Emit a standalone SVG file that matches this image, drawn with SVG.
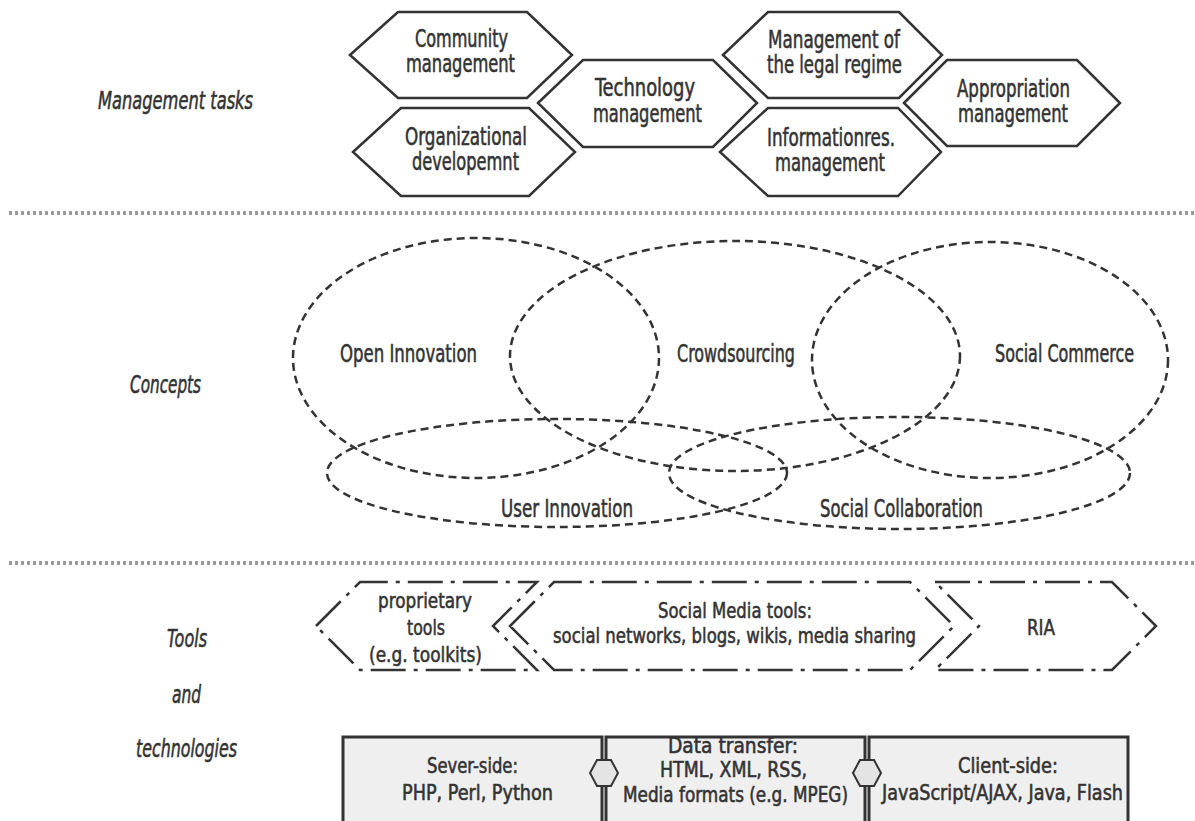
<svg xmlns="http://www.w3.org/2000/svg" width="1195" height="821" viewBox="0 0 1195 821">
<style>
.t{font-family:"DejaVu Sans Condensed","DejaVu Sans",sans-serif;font-stretch:condensed;fill:#333;stroke:#333;stroke-width:0.55;text-anchor:middle}
.hx{font-size:24px}
.lb{font-size:24px;font-style:italic}
.cc{font-size:25px}
.tl{font-size:22px}
.bt{font-size:21px}
.hex{fill:#fff;stroke:#333;stroke-width:2.5;stroke-linejoin:miter}
.sep{stroke:#999;stroke-width:4;stroke-dasharray:3 3;fill:none}
.ell{fill:none;stroke:#333;stroke-width:2.5;stroke-dasharray:8 5}
.tool{fill:none;stroke:#333;stroke-width:2.5;stroke-dasharray:35 8 4 8}
.box{fill:#efefef;stroke:#333;stroke-width:3}
.conn{fill:#e4e4e4;stroke:#333;stroke-width:2}
</style>
<rect width="1195" height="821" fill="#fff"/>

<g id="separators">
<line class="sep" x1="9" y1="213" x2="1195" y2="213"/>
<line class="sep" x1="9" y1="563" x2="1195" y2="563"/>
</g>

<g id="labels">
<text class="t lb" x="175.5" y="109" textLength="155" lengthAdjust="spacingAndGlyphs">Management tasks</text>
<text class="t lb" x="165.5" y="393" textLength="71" lengthAdjust="spacingAndGlyphs">Concepts</text>
<text class="t lb" x="187" y="647" textLength="40" lengthAdjust="spacingAndGlyphs">Tools</text>
<text class="t lb" x="186.5" y="703" textLength="29" lengthAdjust="spacingAndGlyphs">and</text>
<text class="t lb" x="186.5" y="757" textLength="101" lengthAdjust="spacingAndGlyphs">technologies</text>
</g>

<g id="community-management">
<polygon class="hex" points="350,55 398,12 527,12 572,55 527,98 398,98"/>
<text class="t hx" x="461.5" y="47" textLength="93" lengthAdjust="spacingAndGlyphs">Community</text>
<text class="t hx" x="460.5" y="72" textLength="109" lengthAdjust="spacingAndGlyphs">management</text>
</g>
<g id="organizational-development">
<polygon class="hex" points="353,152 401,108 529,108 575,152 529,196 401,196"/>
<text class="t hx" x="466" y="145" textLength="122" lengthAdjust="spacingAndGlyphs">Organizational</text>
<text class="t hx" x="465.5" y="170" textLength="107" lengthAdjust="spacingAndGlyphs">developemnt</text>
</g>
<g id="technology-management">
<polygon class="hex" points="538,103 583,60 713,60 757,103 713,147 583,147"/>
<text class="t hx" x="645" y="96" textLength="100" lengthAdjust="spacingAndGlyphs">Technology</text>
<text class="t hx" x="647.5" y="122" textLength="109" lengthAdjust="spacingAndGlyphs">management</text>
</g>
<g id="legal-regime-management">
<polygon class="hex" points="723,55 768,12 899,12 942,55 899,98 768,98"/>
<text class="t hx" x="834" y="48" textLength="132" lengthAdjust="spacingAndGlyphs">Management of</text>
<text class="t hx" x="834.5" y="73" textLength="135" lengthAdjust="spacingAndGlyphs">the legal regime</text>
</g>
<g id="informationres-management">
<polygon class="hex" points="720,152 768,108 898,108 941,152 898,196 768,196"/>
<text class="t hx" x="831" y="146" textLength="128" lengthAdjust="spacingAndGlyphs">Informationres.</text>
<text class="t hx" x="830" y="171" textLength="110" lengthAdjust="spacingAndGlyphs">management</text>
</g>
<g id="appropriation-management">
<polygon class="hex" points="904,103 947,60 1077,60 1120,103 1077,146 947,146"/>
<text class="t hx" x="1013.5" y="97" textLength="113" lengthAdjust="spacingAndGlyphs">Appropriation</text>
<text class="t hx" x="1013" y="122" textLength="110" lengthAdjust="spacingAndGlyphs">management</text>
</g>

<g id="open-innovation">
<ellipse class="ell" cx="476" cy="358" rx="183" ry="120"/>
<text class="t cc" x="408.5" y="362" textLength="137" lengthAdjust="spacingAndGlyphs">Open Innovation</text>
</g>
<g id="crowdsourcing">
<ellipse class="ell" cx="735" cy="356" rx="225" ry="115"/>
<text class="t cc" x="736" y="362" textLength="118" lengthAdjust="spacingAndGlyphs">Crowdsourcing</text>
</g>
<g id="social-commerce">
<ellipse class="ell" cx="990" cy="360" rx="178" ry="118"/>
<text class="t cc" x="1064.5" y="362" textLength="139" lengthAdjust="spacingAndGlyphs">Social Commerce</text>
</g>
<g id="user-innovation">
<ellipse class="ell" cx="557" cy="473" rx="230" ry="54"/>
<text class="t cc" x="567" y="517" textLength="132" lengthAdjust="spacingAndGlyphs">User Innovation</text>
</g>
<g id="social-collaboration">
<ellipse class="ell" cx="899.5" cy="473" rx="230.5" ry="56"/>
<text class="t cc" x="901.5" y="517" textLength="163" lengthAdjust="spacingAndGlyphs">Social Collaboration</text>
</g>

<g id="proprietary-tools">
<polygon class="tool" points="316,626 360,582 537,582 493,626 537,670 360,670"/>
<text class="t tl" x="425" y="608" textLength="94" lengthAdjust="spacingAndGlyphs">proprietary</text>
<text class="t tl" x="426" y="635" textLength="38" lengthAdjust="spacingAndGlyphs">tools</text>
<text class="t tl" x="425.5" y="662" textLength="113" lengthAdjust="spacingAndGlyphs">(e.g. toolkits)</text>
</g>
<g id="social-media-tools">
<polygon class="tool" points="510,626 554,582 910,582 954,626 910,670 554,670"/>
<text class="t tl" x="735" y="618" textLength="154" lengthAdjust="spacingAndGlyphs">Social Media tools:</text>
<text class="t tl" x="734.5" y="643" textLength="363" lengthAdjust="spacingAndGlyphs">social networks, blogs, wikis, media sharing</text>
</g>
<g id="ria">
<polygon class="tool" points="935,582 1112,582 1156,626 1112,670 935,670 979,626"/>
<text class="t tl" x="1041" y="635" textLength="28" lengthAdjust="spacingAndGlyphs">RIA</text>
</g>

<g id="server-side">
<rect class="box" x="343" y="737" width="259" height="100"/>
<text class="t bt" x="472.5" y="773" textLength="91" lengthAdjust="spacingAndGlyphs">Sever-side:</text>
<text class="t bt" x="477.5" y="800" textLength="151" lengthAdjust="spacingAndGlyphs">PHP, Perl, Python</text>
</g>
<g id="data-transfer">
<rect class="box" x="606" y="737" width="259" height="100"/>
<text class="t bt" x="733" y="753" textLength="130" lengthAdjust="spacingAndGlyphs">Data transfer:</text>
<text class="t bt" x="733.5" y="777" textLength="147" lengthAdjust="spacingAndGlyphs">HTML, XML, RSS,</text>
<text class="t bt" x="735.5" y="802" textLength="225" lengthAdjust="spacingAndGlyphs">Media formats (e.g. MPEG)</text>
</g>
<g id="client-side">
<rect class="box" x="869" y="737" width="259" height="100"/>
<text class="t bt" x="1008" y="773" textLength="100" lengthAdjust="spacingAndGlyphs">Client-side:</text>
<text class="t bt" x="1002.5" y="800" textLength="241" lengthAdjust="spacingAndGlyphs">JavaScript/AJAX, Java, Flash</text>
</g>

<g id="connectors">
<polygon class="conn" points="590,773 597,760 611,760 618,773 611,786 597,786"/>
<polygon class="conn" points="853,773 860,760 874,760 881,773 874,786 860,786"/>
</g>
</svg>
